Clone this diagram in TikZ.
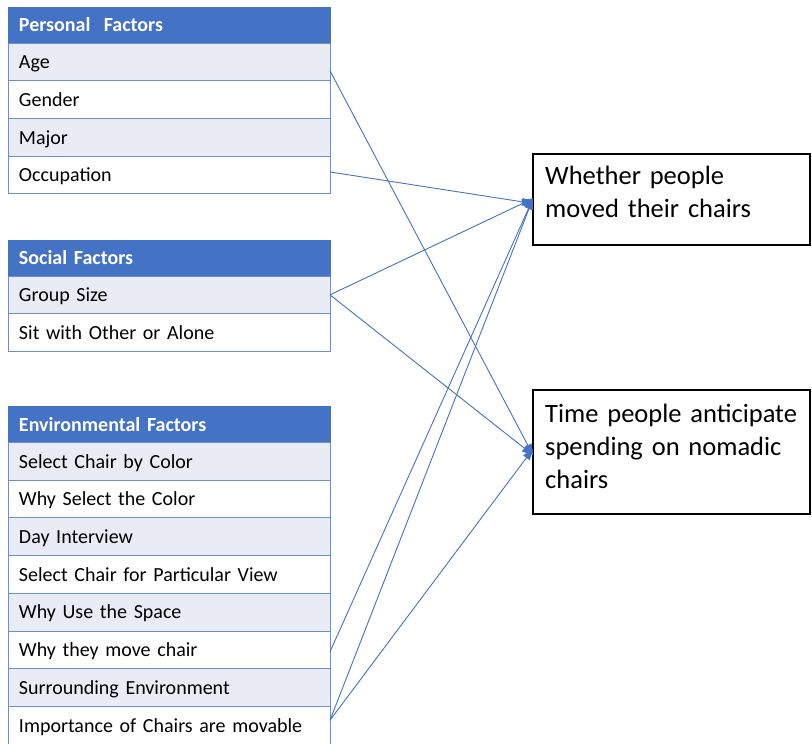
\documentclass[tikz,border=0pt]{standalone}
\usepackage{fontspec}
\setmainfont{Carlito}
\usetikzlibrary{arrows.meta}
\definecolor{hdr}{HTML}{4472C4}
\definecolor{rowa}{HTML}{E9EBF5}
\definecolor{bord}{HTML}{6A8FD3}
\definecolor{arr}{HTML}{4472C4}
\begin{document}
\begin{tikzpicture}[x=1pt,y=-1pt,
  cell/.style={draw=bord, line width=1pt, anchor=north west, minimum height=37.7pt,
    text width=300pt, text height=16.5pt, text depth=3pt, inner xsep=11pt, inner ysep=0pt, outer sep=0pt, align=left,
    font=\fontsize{20}{24}\selectfont},
  odd/.style={cell, fill=rowa},
  even/.style={cell, fill=white},
  head/.style={cell, fill=hdr, draw=hdr, text=white, minimum height=36pt,
    font=\fontsize{20}{24}\selectfont\bfseries},
  outbox/.style={draw=black, line width=1.8pt, anchor=north west, minimum width=277pt, inner sep=0pt, outer sep=0pt},
  outtext/.style={anchor=base west, text width=262pt, inner sep=0pt, align=left,
    font=\fontsize{26.5}{33}\selectfont},
  link/.style={draw=arr, line width=0.9pt, -{Triangle[length=11pt,width=8pt]}}
]
\useasboundingbox (0,0) rectangle (812,744);
\fill[white] (0,0) rectangle (812,744);
% Personal factors
\node[head] (pf) at (8,7) {Personal\ \ Factors};
\node[odd]  (age) at (pf.south west) {Age};
\node[even] (gen) at (age.south west) {Gender};
\node[odd]  (maj) at (gen.south west) {Major};
\node[even] (occ) at (maj.south west) {Occupation};
% Social factors
\node[head] (sf) at (8,240) {Social Factors};
\node[odd]  (grp) at (sf.south west) {Group Size};
\node[even] (sit) at (grp.south west) {Sit with Other or Alone};
% Environmental factors
\node[head] (ef) at (8,406.5) {Environmental Factors};
\node[odd]  (e1) at (ef.south west) {Select Chair by Color};
\node[even] (e2) at (e1.south west) {Why Select the Color};
\node[odd]  (e3) at (e2.south west) {Day Interview};
\node[even] (e4) at (e3.south west) {Select Chair for Particular View};
\node[odd]  (e5) at (e4.south west) {Why Use the Space};
\node[even] (e6) at (e5.south west) {Why they move chair};
\node[odd]  (e7) at (e6.south west) {Surrounding Environment};
\node[even] (e8) at (e7.south west) {Importance of Chairs are movable};
% Outcome boxes
\node[outbox, minimum height=91pt] (o1) at (533,154) {};
\node[outtext] (o1t) at (545,184) {Whether people\\moved their chairs};
\node[outbox, minimum height=124pt] (o2) at (533,390) {};
\node[outtext] (o2t) at (545,422) {Time people anticipate\\spending on nomadic\\chairs};
% Connectors
\coordinate (a1) at ([yshift=-4pt]o1.west);
\coordinate (a2) at ([yshift=1pt]o1.west);
\coordinate (b1) at ([yshift=-3pt]o2.west);
\coordinate (b2) at ([yshift=3pt]o2.west);
\draw[link] ([yshift=-9pt]age.east) -- (b1);
\draw[link] ([yshift=3pt]occ.east) -- (a1);
\draw[link] (grp.east) -- (a2);
\draw[link] (grp.east) -- (b1);
\draw[link] ([yshift=-2pt]e6.east) -- (a2);
\draw[link] ([yshift=5pt]e8.east) -- (a2);
\draw[link] ([yshift=5pt]e8.east) -- (b2);
\end{tikzpicture}
\end{document}
